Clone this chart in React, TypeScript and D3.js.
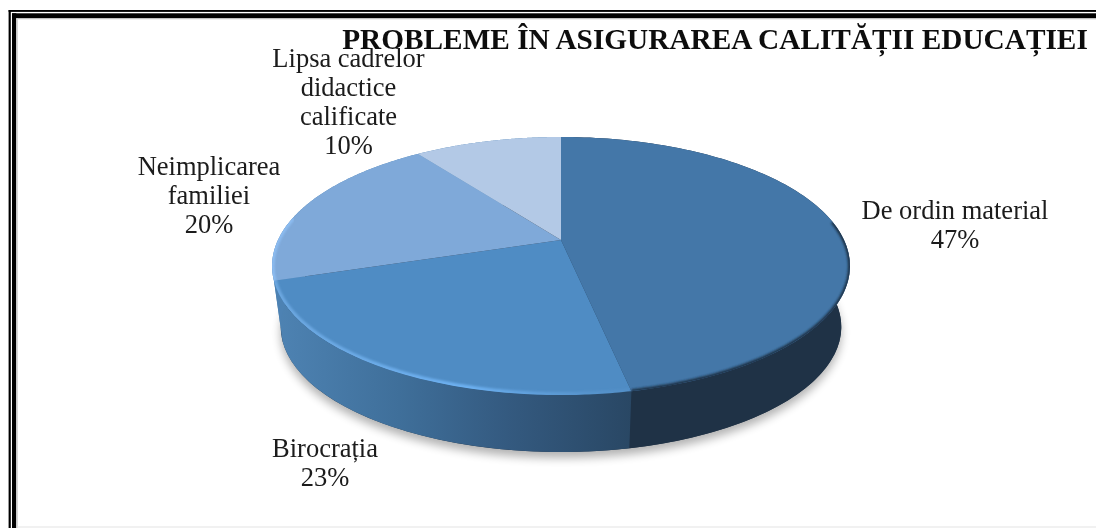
import React from "react";
import * as d3 from "d3";

const titleText = "PROBLEME ÎN ASIGURAREA CALITĂȚII EDUCAȚIEI";
const categories = ["De ordin material", "Birocrația", "Neimplicarea familiei", "Lipsa cadrelor didactice calificate"];
const values = [46.8, 23.2, 20, 10];
const labelLines = [
  ["De ordin material"],
  ["Birocrația"],
  ["Neimplicarea", "familiei"],
  ["Lipsa cadrelor", "didactice", "calificate"],
];
const labelAnchors = [
  [955, 219],
  [325, 457],
  [209, 175],
  [348.5, 67],
];
const topColors = ["#4477a8", "#4f8cc4", "#7fa9d9", "#b3c9e6"];

const W = 1096, H = 528;
const CX = 561, CY = 240, A = 283, B = 123.8, K = 0.2016, DY = 61.6, S = 0.97;
const pct = d3.format(".0f");

const rim = (t: number, scale = 1, dy = 0): [number, number] => {
  const u = Math.sin(t), v = -Math.cos(t), w = 1 - K * v;
  return [CX + (scale * A * u) / w, CY + dy + (scale * B * v) / w];
};
const arcPts = (a: number, b: number, scale = 1, dy = 0) =>
  d3.range(0, 121).map((i) => rim(a + ((b - a) * i) / 120, scale, dy));
const line = d3.line();

export default function App() {
  const slices = d3.pie<number>().sort(null)(values);
  const all = arcPts(0, Math.PI * 2);
  const bottom = arcPts(0, Math.PI * 2, S, DY);
  const topPath = (s: any) => line([[CX, CY], ...arcPts(s.startAngle, s.endAngle)])! + "Z";
  const sidePath = (s: any) =>
    line([...arcPts(s.startAngle, s.endAngle), ...arcPts(s.startAngle, s.endAngle, S, DY).reverse()])! + "Z";
  const sideFills = ["#1f3246", "url(#sideB)", "#4d82b3", "#4d82b3"];

  return (
    <svg width={W} height={H} viewBox={`0 0 ${W} ${H}`} style={{ position: "absolute", left: 0, top: 0, background: "#fff" }}>
      <defs>
        <linearGradient id="sideB" gradientUnits="userSpaceOnUse" x1="274" x2="632" y1="0" y2="0">
          <stop offset="0" stopColor="#4e83b3" />
          <stop offset="0.35" stopColor="#3f6f9a" />
          <stop offset="0.65" stopColor="#345a80" />
          <stop offset="1" stopColor="#294764" />
        </linearGradient>
        <linearGradient id="hl" gradientUnits="userSpaceOnUse" x1="274" x2="632" y1="0" y2="0">
          <stop offset="0" stopColor="#6ea9e2" stopOpacity="0.9" />
          <stop offset="0.55" stopColor="#6db1f2" stopOpacity="1" />
          <stop offset="1" stopColor="#5f9ad2" stopOpacity="0.2" />
        </linearGradient>
        <filter id="blurS" x="-20%" y="-20%" width="140%" height="140%">
          <feGaussianBlur stdDeviation="5" />
        </filter>
        <filter id="blurE" x="-5%" y="-5%" width="110%" height="110%">
          <feGaussianBlur stdDeviation="1.3" />
        </filter>
        <filter id="blurT" x="-2%" y="-10%" width="104%" height="120%">
          <feGaussianBlur stdDeviation="0.4" />
        </filter>
        <clipPath id="topClip">
          <path d={line(all)! + "Z"} />
        </clipPath>
      </defs>

      {/* frame */}
      <g fill="#000">
        <rect x={8.6} y={10} width={W - 8.6} height={1.9} />
        <rect x={8.6} y={10} width={2.2} height={H - 10} />
        <rect x={12} y={13.3} width={W - 12} height={5} />
        <rect x={12} y={13.3} width={4.3} height={H - 13.3} />
      </g>
      <rect x={16.3} y={18.3} width={W} height={1} fill="#c4c4c4" />
      <rect x={16.3} y={18.3} width={1.6} height={H} fill="#d4d4d4" />
      <rect x={17} y={526.5} width={W - 17} height={1} fill="#e4e4e4" />

      {/* shadow */}
      <path d={line(bottom)! + "Z"} transform="translate(0,6)" fill="#000" opacity={0.3} filter="url(#blurS)" />

      {/* side wall */}
      <path d={line(bottom)! + "Z"} fill="#1f3246" />
      {slices.map((s, i) => (
        <path key={"side" + i} d={sidePath(s)} fill={sideFills[i]} />
      ))}

      {/* top face */}
      {slices.map((s, i) => (
        <path key={"top" + i} d={topPath(s)} fill={topColors[i]} />
      ))}

      {/* bevel edges */}
      <g clipPath="url(#topClip)" fill="none">
        <path d={line(arcPts(1.42, slices[0].endAngle))!} stroke="#1f3246" strokeWidth={4} filter="url(#blurE)" />
        <path d={line(arcPts(slices[1].startAngle, slices[1].endAngle))!} stroke="url(#hl)" strokeWidth={6} filter="url(#blurE)" />
        <path d={line(arcPts(slices[2].startAngle, slices[2].startAngle + 0.5))!} stroke="#8fc0f5" strokeWidth={5} opacity={0.85} filter="url(#blurE)" />
      </g>

      {/* labels */}
      <g fontFamily="'Liberation Serif', serif" fontSize={26.5} fill="#1a1a1a" textAnchor="middle" filter="url(#blurT)">
        {categories.map((c, i) => (
          <text key={c} x={labelAnchors[i][0]} y={labelAnchors[i][1]}>
            {[...labelLines[i], `${pct(values[i])}%`].map((l, j) => (
              <tspan key={j} x={labelAnchors[i][0]} dy={j === 0 ? 0 : 29}>
                {l}
              </tspan>
            ))}
          </text>
        ))}
      </g>
      <text x={715} y={49} textAnchor="middle" fontFamily="'Liberation Serif', serif" fontWeight="bold" fontSize={29.3} fill="#111" filter="url(#blurT)">
        {titleText}
      </text>
    </svg>
  );
}
